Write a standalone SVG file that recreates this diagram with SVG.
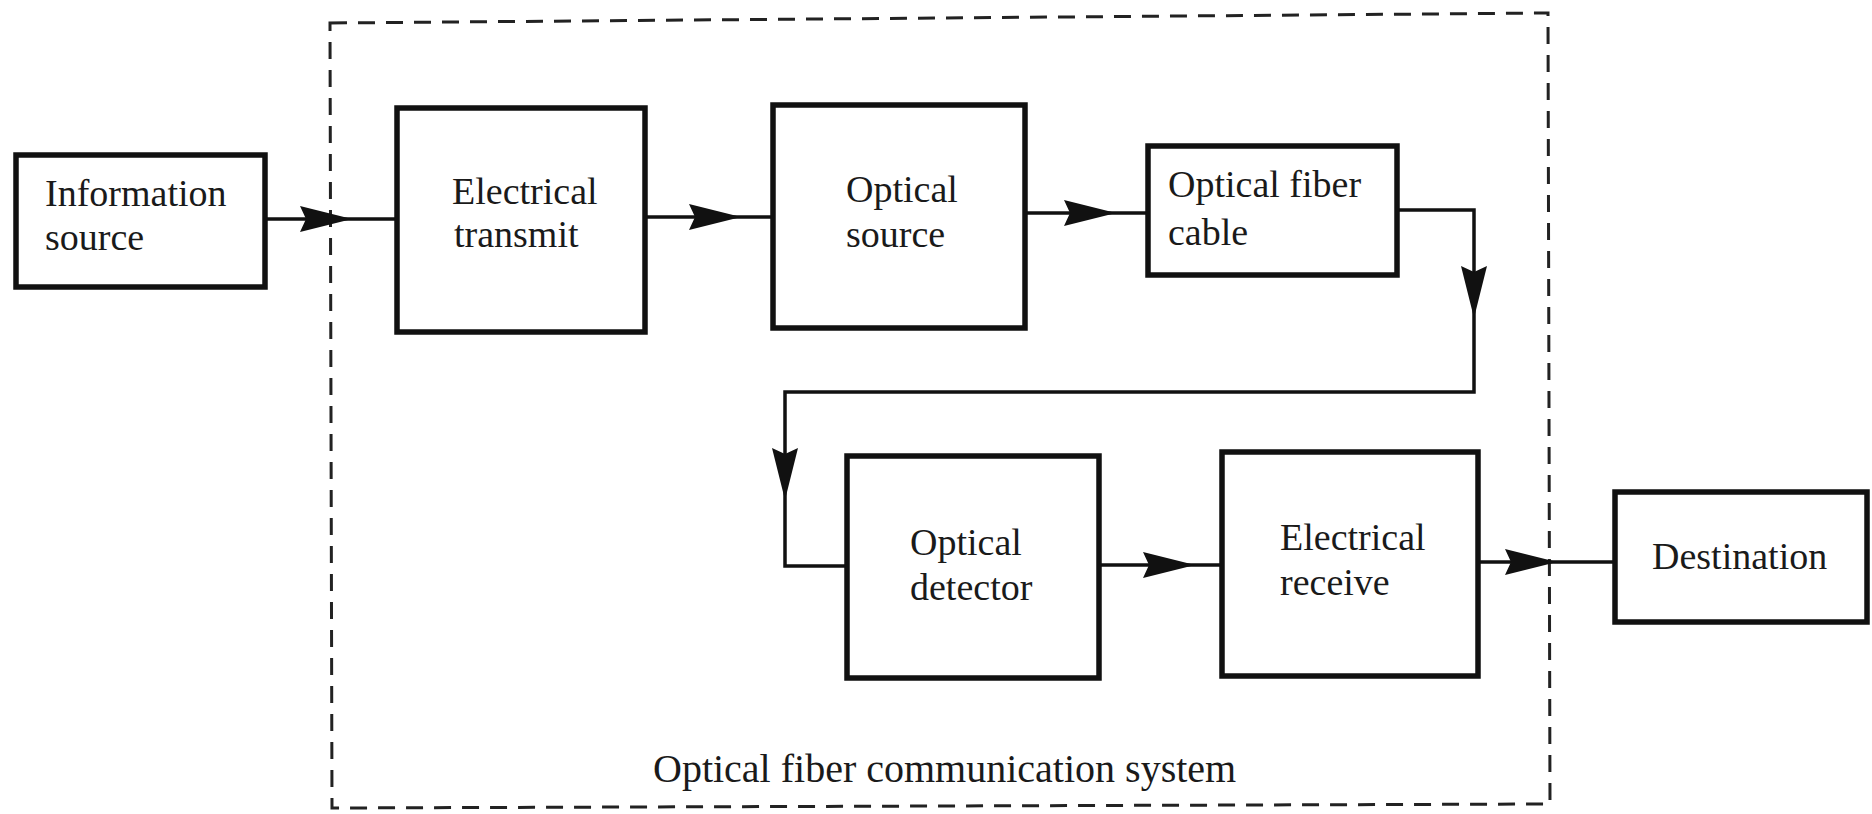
<svg xmlns="http://www.w3.org/2000/svg" xmlns:xlink="http://www.w3.org/1999/xlink" width="1872" height="814" viewBox="0 0 1872 814">
<style>
.box{fill:none;stroke:#111;stroke-width:5.5}
.lbl{font-family:"Liberation Serif","Times New Roman",serif;font-size:38px;fill:#1a1a1a}
.cap{font-size:40px}
.wire{fill:none;stroke:#111;stroke-width:3.5}
.frame{fill:none;stroke:#222;stroke-width:3;stroke-dasharray:17 11}
.head{fill:#111}
</style>
<defs>
<path id="ah" class="head" d="M0,0 L-52,-13 L-46,0 L-52,13 Z"/>
</defs>
<rect width="1872" height="814" fill="#fff"/>
<g id="system-boundary">
<path class="frame" d="M330,23 L1548,13 L1550,804 L332,808 Z"/>
<text class="lbl cap" x="653" y="782">Optical fiber communication system</text>
</g>
<g id="connectors">
<path class="wire" d="M265,219 H397"/>
<use xlink:href="#ah" transform="translate(352,219)"/>
<path class="wire" d="M645,217 H773"/>
<use xlink:href="#ah" transform="translate(741,217)"/>
<path class="wire" d="M1025,213 H1148"/>
<use xlink:href="#ah" transform="translate(1116,213)"/>
<path class="wire" d="M1397,210 H1474 V392 H785 V566 H847"/>
<use xlink:href="#ah" transform="translate(1474,318) rotate(90)"/>
<use xlink:href="#ah" transform="translate(785,500) rotate(90)"/>
<path class="wire" d="M1099,565 H1222"/>
<use xlink:href="#ah" transform="translate(1195,565)"/>
<path class="wire" d="M1478,562 H1615"/>
<use xlink:href="#ah" transform="translate(1557,562)"/>
</g>
<g id="information-source">
<rect class="box" x="16" y="155" width="249" height="132"/>
<text class="lbl" x="45" y="206">Information</text>
<text class="lbl" x="45" y="250">source</text>
</g>
<g id="electrical-transmit">
<rect class="box" x="397" y="108" width="248" height="224"/>
<text class="lbl" x="452" y="204">Electrical</text>
<text class="lbl" x="454" y="247">transmit</text>
</g>
<g id="optical-source">
<rect class="box" x="773" y="105" width="252" height="223"/>
<text class="lbl" x="846" y="202">Optical</text>
<text class="lbl" x="846" y="247">source</text>
</g>
<g id="optical-fiber-cable">
<rect class="box" x="1148" y="146" width="249" height="129"/>
<text class="lbl" x="1168" y="197">Optical fiber</text>
<text class="lbl" x="1168" y="245">cable</text>
</g>
<g id="optical-detector">
<rect class="box" x="847" y="456" width="252" height="222"/>
<text class="lbl" x="910" y="555">Optical</text>
<text class="lbl" x="910" y="600">detector</text>
</g>
<g id="electrical-receive">
<rect class="box" x="1222" y="452" width="256" height="224"/>
<text class="lbl" x="1280" y="550">Electrical</text>
<text class="lbl" x="1280" y="595">receive</text>
</g>
<g id="destination">
<rect class="box" x="1615" y="492" width="252" height="130"/>
<text class="lbl" x="1652" y="569">Destination</text>
</g>
</svg>
